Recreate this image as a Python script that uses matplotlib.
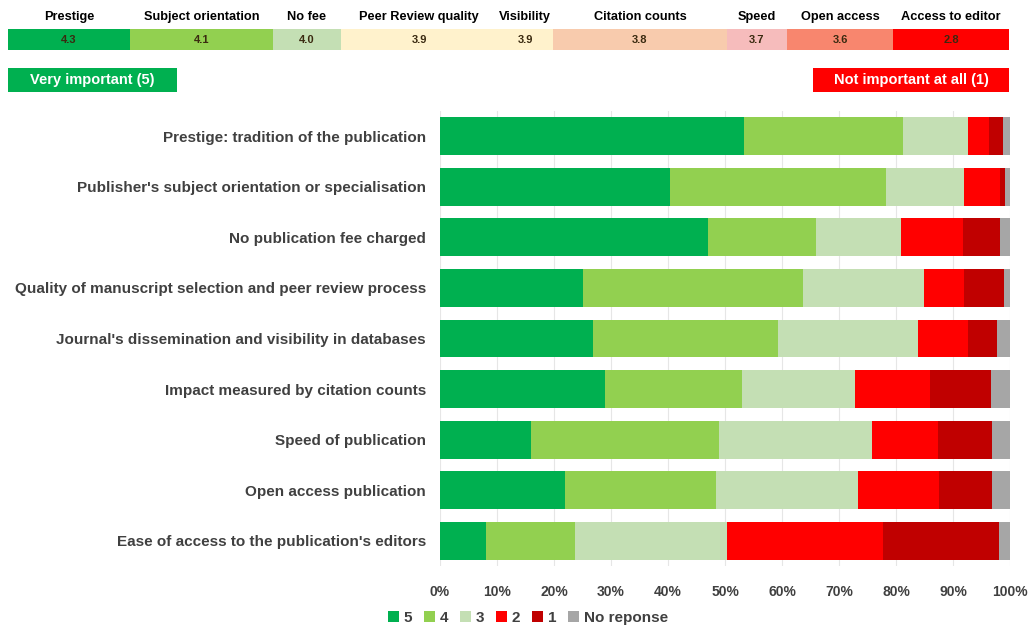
import matplotlib.pyplot as plt
from matplotlib.patches import Rectangle

plt.rcParams['font.family'] = ['Liberation Sans', 'DejaVu Sans']

# Data
criteria = [
    "Prestige: tradition of the publication",
    "Publisher's subject orientation or specialisation",
    "No publication fee charged",
    "Quality of manuscript selection and peer review process",
    "Journal's dissemination and visibility in databases",
    "Impact measured by citation counts",
    "Speed of publication",
    "Open access publication",
    "Ease of access to the publication's editors",
]
score_5 = [53.4, 40.3, 47.0, 25.0, 26.9, 28.9, 16.0, 22.0, 8.1]
score_4 = [27.9, 37.9, 18.9, 38.7, 32.4, 24.0, 32.9, 26.4, 15.5]
score_3 = [11.4, 13.7, 15.0, 21.2, 24.5, 19.9, 26.9, 24.9, 26.7]
score_2 = [3.6, 6.3, 10.9, 7.0, 8.8, 13.1, 11.6, 14.2, 27.4]
score_1 = [2.5, 1.0, 6.5, 7.0, 5.2, 10.7, 9.4, 9.3, 20.3]
no_resp = [1.2, 0.8, 1.7, 1.1, 2.2, 3.4, 3.2, 3.2, 2.0]

series = [score_5, score_4, score_3, score_2, score_1, no_resp]
series_names = ["5", "4", "3", "2", "1", "No reponse"]
series_colors = ["#00B050", "#92D050", "#C4DFB4", "#FF0000", "#C00000", "#A6A6A6"]

# mean score strip
strip_labels = ["Prestige", "Subject orientation", "No fee", "Peer Review quality",
                "Visibility", "Citation counts", "Speed", "Open access", "Access to editor"]
strip_scores = ["4.3", "4.1", "4.0", "3.9", "3.9", "3.8", "3.7", "3.6", "2.8"]
strip_colors = ["#00B050", "#92D050", "#C4DFB4", "#FFF2CC", "#FFF2CC",
                "#F8CBAD", "#F6BCBC", "#F8866E", "#FF0000"]
strip_widths = [122, 143, 68, 156, 56, 174, 60, 106, 116]

W, H = 1034, 628
fig = plt.figure(figsize=(W / 100, H / 100), dpi=100)

# overlay axes in pixel coordinates for the header strip
top = fig.add_axes([0, 0, 1, 1])
top.set_xlim(0, W)
top.set_ylim(H, 0)
top.axis("off")

x0 = 8
for lab, sc, col, w in zip(strip_labels, strip_scores, strip_colors, strip_widths):
    top.add_patch(Rectangle((x0, 29), w, 21, facecolor=col, edgecolor="none"))
    top.text(x0 + w / 2, 17, lab, ha="center", va="center", fontsize=9.2, fontweight="bold")
    top.text(x0 + w / 2, 40, sc, ha="center", va="center", fontsize=8, fontweight="bold",
             color="#3a2a10")
    x0 += w

top.add_patch(Rectangle((8, 68), 169, 24, facecolor="#00B050", edgecolor="none"))
top.text(92, 80, "Very important (5)", ha="center", va="center", color="white",
         fontsize=10.5, fontweight="bold")
top.add_patch(Rectangle((813, 68), 196, 24, facecolor="#FF0000", edgecolor="none"))
top.text(911, 80, "Not important at all (1)", ha="center", va="center", color="white",
         fontsize=10.5, fontweight="bold")

# main stacked bar chart
ax = fig.add_axes([440 / W, (H - 566) / H, 570 / W, 455 / H])
ypos = list(range(len(criteria)))
left = [0.0] * len(criteria)
handles = []
for vals, name, col in zip(series, series_names, series_colors):
    b = ax.barh(ypos, vals, left=left, height=0.75, color=col, label=name, zorder=2)
    handles.append(b)
    left = [l + v for l, v in zip(left, vals)]

ax.set_xlim(0, 100)
ax.set_ylim(8.5, -0.5)
ax.set_yticks(ypos)
ax.set_yticklabels(criteria, fontsize=11, fontweight="bold", color="#404040")
ax.set_xticks(range(0, 101, 10))
ax.set_xticklabels([f"{t}%" for t in range(0, 101, 10)], fontsize=10, fontweight="bold",
                   color="#404040")
ax.tick_params(length=0, pad=10)
ax.tick_params(axis="x", pad=14)
ax.grid(axis="x", color="#E6E6E6", linewidth=0.8, zorder=0)
for s in ax.spines.values():
    s.set_visible(False)

fig.legend(handles=handles, labels=series_names, loc="center", ncol=6,
           bbox_to_anchor=(528 / W, (H - 618) / H), frameon=False,
           handlelength=0.7, handleheight=0.7, handletextpad=0.3, columnspacing=0.8,
           prop={"size": 11, "weight": "bold"}, labelcolor="#404040")

fig.savefig("out.png", dpi=100)
